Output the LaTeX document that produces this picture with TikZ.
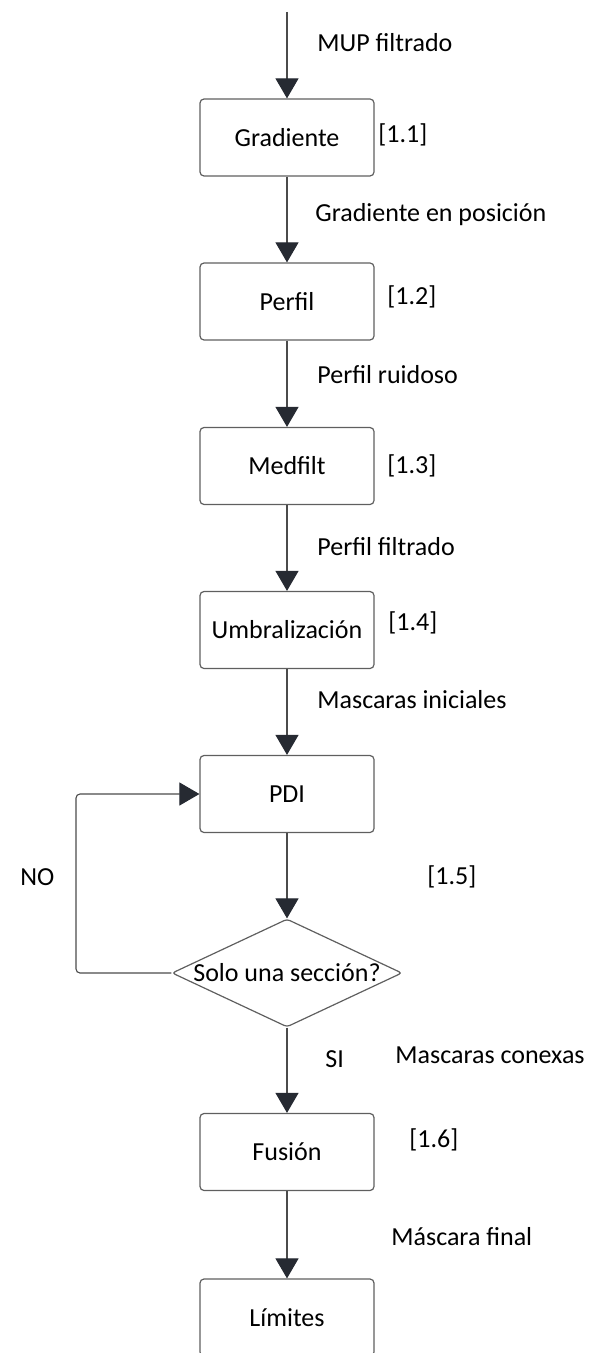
\documentclass[tikz,border=0pt]{standalone}
\usepackage{fontspec}
\setmainfont{Carlito}
\usepackage{tikz}
\usetikzlibrary{shapes.geometric,arrows.meta}
\definecolor{linegray}{RGB}{75,75,75}
\definecolor{boxgray}{RGB}{95,95,95}
\definecolor{headdark}{RGB}{38,42,50}
\tikzset{>={Triangle[length=10pt,width=11.5pt,fill=headdark,color=headdark]}}
\tikzset{
	procbox/.style={draw=boxgray,line width=0.6pt,rounded corners=2pt,minimum width=87pt,minimum height=38.5pt,inner sep=0pt},
	decbox/.style={draw=boxgray,line width=0.6pt,diamond,rounded corners=1.5pt,minimum width=115pt,minimum height=54pt,inner sep=0pt},
	flowtxt/.style={anchor=west,inner sep=0pt},
	flowline/.style={->,draw=linegray,line width=0.55pt}
}

\begin{document}
\begin{tikzpicture}[x=0.5pt,y=-0.5pt,font=\fontsize{13pt}{15pt}\selectfont]
	\useasboundingbox (0,0) rectangle (593,1353);
	\clip (0,0) rectangle (593,1353);
	% cajas
	\node[procbox] (grad) at (287,137.5) {Gradiente};
	\node[procbox] (perfil) at (287,301.5) {Perfil};
	\node[procbox] (medfilt) at (287,466) {Medfilt};
	\node[procbox] (umbral) at (287,630) {Umbralización};
	\node[procbox] (pdi) at (287,794) {PDI};
	\node[decbox,label=center:{Solo una sección?}] (dec) at (287,973) {};
	\node[procbox] (fusion) at (287,1152) {Fusión};
	\node[procbox] (limites) at (287,1317.5) {Límites};
	\coordinate (start) at (287,12);
	\coordinate (loop) at (76,973);
	% flechas
	\draw[flowline] (start) -- (grad);
	\foreach \a/\b in {grad/perfil,perfil/medfilt,medfilt/umbral,umbral/pdi,pdi/dec,dec/fusion,fusion/limites}
	\draw[flowline] (\a) -- (\b);
	\draw[flowline,rounded corners=2pt] (dec.west) -- (loop) |- (pdi.west);
	% textos
	\node[flowtxt] (t1) at (317,43) {MUP filtrado};
	\node[flowtxt] (t2) at (315,215) {Gradiente en posición};
	\node[flowtxt] (t3) at (317,375) {Perfil ruidoso};
	\node[flowtxt] (t4) at (317,547) {Perfil filtrado};
	\node[flowtxt] (t5) at (317,700) {Mascaras iniciales};
	\node[flowtxt] (t6) at (395,1055) {Mascaras conexas};
	\node[flowtxt] (t7) at (391,1237) {Máscara final};
	\node[flowtxt] (si) at (325,1059) {SI};
	\node[flowtxt] (no) at (20,877) {NO};
	\node[flowtxt] (r1) at (378,135) {[1.1]};
	\node[flowtxt] (r2) at (387,297) {[1.2]};
	\node[flowtxt] (r3) at (387,466) {[1.3]};
	\node[flowtxt] (r4) at (388,623) {[1.4]};
	\node[flowtxt] (r5) at (427,877) {[1.5]};
	\node[flowtxt] (r6) at (409,1140) {[1.6]};
\end{tikzpicture}
\end{document}
